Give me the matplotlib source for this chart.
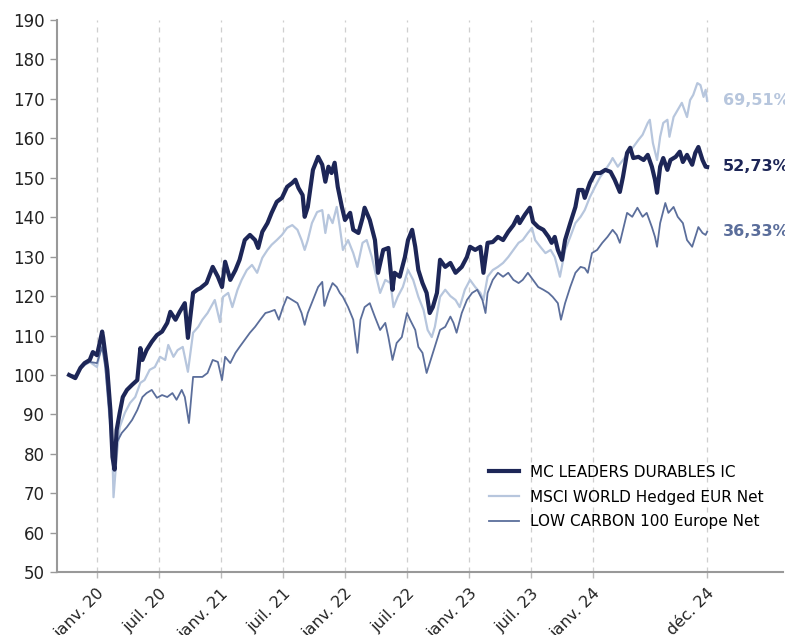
import numpy as np
import matplotlib
matplotlib.use("Agg")
import matplotlib.pyplot as plt

# months since janv. 20 / index value (base 100)
mc_m = [-2.7,-2.1,-1.6,-1.2,-0.7,-0.4,0.0,0.5,0.6,1.0,
        1.3,1.5,1.7,1.9,2.2,2.5,2.9,3.4,3.9,4.2,
        4.4,4.8,5.3,5.8,6.3,6.8,7.1,7.6,8.0,8.5,
        8.8,9.3,9.7,10.0,10.6,11.2,11.7,12.1,12.4,12.9,
        13.4,13.8,14.3,14.8,15.3,15.6,16.0,16.5,16.9,17.4,
        17.9,18.4,18.9,19.2,19.5,19.9,20.1,20.4,20.9,21.4,
        21.8,22.1,22.4,22.7,23.0,23.3,23.7,24.0,24.5,24.8,
        25.3,25.7,25.9,26.4,26.9,27.2,27.7,28.2,28.6,28.8,
        29.3,29.8,30.1,30.5,30.8,31.1,31.5,31.9,32.2,32.5,
        32.9,33.2,33.7,34.2,34.7,35.3,35.8,36.1,36.6,37.1,
        37.4,37.8,38.3,38.8,39.3,39.8,40.3,40.7,40.9,41.4,
        41.9,42.2,42.7,43.2,43.7,44.0,44.3,44.6,45.0,45.3,
        45.8,46.3,46.6,47.0,47.2,47.7,48.2,48.7,49.2,49.7,
        50.1,50.6,50.9,51.3,51.6,51.9,52.4,52.9,53.3,53.7,
        54.0,54.2,54.5,54.8,55.2,55.5,56.0,56.4,56.7,57.1,
        57.6,57.9,58.2,58.6,58.9,59.05]
mc_v = [100.0,99.2,101.8,103.0,103.8,105.8,105.0,111.0,109.4,101.3,
        91.0,79.2,76.0,86.0,90.4,94.4,96.2,97.5,98.7,106.8,
        103.8,106.3,108.4,110.1,111.0,113.2,116.0,114.0,116.0,118.2,
        109.4,120.8,121.6,122.0,123.3,127.4,124.9,122.3,128.7,124.1,
        126.6,129.2,134.2,135.5,134.2,132.2,136.3,138.5,141.1,143.9,
        144.9,147.7,148.7,149.5,147.4,145.6,140.1,142.6,152.0,155.3,
        153.3,149.0,152.8,151.2,153.8,147.7,142.6,139.3,141.1,136.8,
        136.0,139.8,142.4,139.3,134.2,125.9,131.7,132.2,121.6,125.9,
        124.9,129.9,134.2,136.8,132.5,126.6,123.3,120.8,115.7,117.2,
        120.8,129.2,127.4,128.4,125.9,127.4,129.9,132.5,131.7,132.5,
        125.9,133.5,133.7,135.0,134.2,136.3,138.0,140.1,138.5,140.6,
        142.4,138.8,137.5,136.8,135.0,133.5,135.0,131.7,129.2,134.2,
        138.5,142.6,146.9,146.9,144.9,148.7,151.2,151.2,152.0,151.5,
        149.5,146.4,150.2,156.3,157.6,155.0,155.3,154.5,155.8,152.8,
        149.5,146.2,152.8,155.0,152.0,154.5,155.3,156.6,154.0,155.8,
        153.3,156.3,157.8,154.5,152.8,152.73]

msci_m = [-2.7,-2.1,-1.6,-1.2,-0.7,0.0,0.5,0.8,1.1,1.5,
          1.6,1.9,2.2,2.7,3.2,3.7,4.2,4.6,5.1,5.6,
          6.1,6.6,6.9,7.4,7.8,8.3,8.8,9.3,9.8,10.2,
          10.7,11.4,11.9,12.2,12.7,13.1,13.6,14.0,14.5,15.0,
          15.5,16.0,16.5,16.9,17.4,17.9,18.4,18.9,19.4,19.8,
          20.1,20.4,20.8,21.3,21.8,22.1,22.4,22.8,23.2,23.5,
          23.8,24.3,24.8,25.2,25.7,26.1,26.6,27.1,27.4,27.9,
          28.4,28.7,29.1,29.6,30.1,30.6,31.1,31.6,32.0,32.4,
          32.7,33.2,33.7,34.2,34.7,35.1,35.6,36.1,36.6,37.1,
          37.4,37.8,38.3,38.8,39.3,39.8,40.3,40.8,41.2,41.7,
          42.1,42.4,42.9,43.4,43.9,44.3,44.8,45.3,45.8,46.3,
          46.8,47.2,47.7,48.2,48.7,49.2,49.7,49.9,50.4,50.9,
          51.4,51.9,52.4,52.8,53.0,53.3,53.5,53.8,54.2,54.5,
          54.8,55.2,55.4,55.8,56.2,56.6,57.1,57.4,57.7,58.1,
          58.4,58.7,58.9,59.05]
msci_v = [100.0,99.6,101.5,102.5,103.3,102.0,108.4,103.0,92.9,79.2,
          69.0,79.2,86.8,90.4,92.9,94.4,98.0,98.7,101.3,102.0,
          104.6,103.8,107.6,104.6,106.3,107.1,100.8,110.7,112.2,114.0,
          115.7,119.0,113.4,119.8,120.8,117.2,121.6,124.1,126.6,127.9,
          125.9,129.7,131.7,133.0,134.2,135.5,137.3,138.0,136.8,134.2,
          131.7,134.2,138.5,141.3,141.8,136.0,140.6,138.5,142.6,137.5,
          131.7,134.2,130.9,127.4,133.5,134.2,129.9,124.1,120.8,124.1,
          123.3,117.2,119.8,122.3,126.6,124.1,119.8,116.5,111.4,109.6,
          112.2,119.8,121.6,120.0,119.0,117.2,121.6,124.1,122.3,120.8,
          119.0,124.9,126.6,127.4,128.4,129.9,131.7,133.5,134.2,136.0,
          137.3,134.2,132.5,130.9,131.7,129.9,124.9,131.7,135.0,138.5,
          140.1,141.8,145.1,147.7,150.2,152.0,154.0,155.0,152.8,154.5,
          156.3,157.8,159.6,160.9,162.1,163.9,164.7,158.8,154.5,160.4,
          163.9,164.7,160.4,165.4,167.2,169.0,165.4,169.7,171.0,174.0,
          173.5,170.5,172.3,169.51]

lc_m = [-2.7,-2.1,-1.6,-1.2,-0.7,0.0,0.5,0.8,1.1,1.5,
        1.6,1.9,2.4,2.9,3.4,3.9,4.4,4.8,5.3,5.8,
        6.3,6.8,7.3,7.7,8.2,8.5,8.9,9.3,9.8,10.2,
        10.7,11.2,11.7,12.1,12.4,12.9,13.4,13.8,14.3,14.8,
        15.3,15.8,16.3,16.7,17.2,17.6,18.0,18.4,18.9,19.4,
        19.8,20.1,20.4,20.9,21.4,21.8,22.0,22.4,22.8,23.2,
        23.5,23.8,24.3,24.8,25.2,25.5,25.9,26.4,26.9,27.4,
        27.9,28.2,28.6,29.0,29.5,30.0,30.3,30.8,31.1,31.5,
        31.9,32.2,32.7,33.2,33.7,34.2,34.5,34.8,35.3,35.8,
        36.3,36.8,37.3,37.6,37.8,38.3,38.8,39.3,39.8,40.3,
        40.8,41.2,41.7,42.2,42.7,43.2,43.7,44.1,44.6,44.9,
        45.3,45.8,46.3,46.8,47.2,47.5,47.9,48.4,48.9,49.4,
        49.9,50.3,50.6,50.9,51.3,51.8,52.3,52.8,53.2,53.7,
        54.0,54.2,54.5,55.0,55.3,55.8,56.2,56.7,57.1,57.6,
        57.9,58.2,58.6,58.9,59.05]
lc_v = [100.0,99.8,101.6,102.6,103.3,103.0,107.1,102.0,92.9,81.7,
        76.0,82.8,85.3,86.8,88.6,91.1,94.4,95.4,96.2,94.2,
        94.9,94.4,95.4,93.7,96.2,94.4,87.8,99.5,99.5,99.5,
        100.5,103.8,103.3,98.7,104.6,103.0,105.6,107.1,108.9,110.7,
        112.2,114.0,115.7,116.0,116.5,114.0,117.2,119.8,119.0,118.2,
        115.7,112.7,115.7,119.0,122.3,123.6,117.5,120.8,123.3,122.3,
        120.8,119.8,117.2,114.0,105.6,114.0,117.2,118.2,114.7,111.4,
        113.2,109.6,103.8,108.1,109.6,115.7,114.0,111.4,107.1,105.6,
        100.5,103.0,107.1,111.4,112.2,114.8,113.2,110.7,115.7,119.0,
        120.8,121.6,119.0,115.7,120.8,124.1,125.9,124.9,125.9,124.1,
        123.3,124.1,125.9,124.1,122.3,121.6,120.8,119.8,118.2,114.0,
        118.2,122.3,125.9,127.4,127.1,125.9,130.9,131.7,133.5,135.0,
        136.8,135.5,133.5,136.8,141.1,140.1,142.4,140.1,141.1,137.5,
        135.0,132.5,138.5,143.6,141.1,142.6,140.1,138.5,134.2,132.5,
        135.0,137.5,136.0,135.5,136.33]

tick_pos = [0, 6, 12, 18, 24, 30, 36, 42, 48, 59]
tick_lbl = ["janv. 20", "juil. 20", "janv. 21", "juil. 21", "janv. 22",
            "juil. 22", "janv. 23", "juil. 23", "janv. 24", "déc. 24"]
end_lbl = ["52,73%", "69,51%", "36,33%"]

c_mc = "#1d2657"
c_msci = "#b7c6dd"
c_lc = "#5b6e9b"

fig = plt.figure(figsize=(7.85, 6.35), dpi=100)
ax = fig.add_axes([0.0726, 0.099, 0.925, 0.8695])

ax.plot(msci_m, msci_v, color=c_msci, lw=1.6, zorder=2, label="MSCI WORLD Hedged EUR Net")
ax.plot(lc_m, lc_v, color=c_lc, lw=1.3, zorder=3, label="LOW CARBON 100 Europe Net")
ax.plot(mc_m, mc_v, color=c_mc, lw=3.0, zorder=4, label="MC LEADERS DURABLES IC")

ax.set_xlim(-3.87, 66.4)
ax.set_ylim(50, 190)
ax.set_yticks(np.arange(50, 191, 10))
ax.set_xticks(tick_pos)
ax.set_xticklabels(tick_lbl, rotation=45, ha="right", rotation_mode="anchor")
ax.tick_params(axis="y", labelsize=12, length=5, width=1, color="#999999", labelcolor="#222222", pad=4)
ax.tick_params(axis="x", labelsize=11.5, length=4, width=1, color="#bbbbbb", labelcolor="#222222", pad=6)

for s in ["top", "right"]:
    ax.spines[s].set_visible(False)
for s in ["left", "bottom"]:
    ax.spines[s].set_color("#999999")
    ax.spines[s].set_linewidth(1.5)

ax.xaxis.grid(True, linestyle=(0, (4, 4)), color="#cfcfcf", lw=0.9)
ax.set_axisbelow(True)

# end labels
ends = [(mc_v[-1], c_mc), (msci_v[-1], c_msci), (lc_v[-1], c_lc)]
for (v, c), t in zip(ends, end_lbl):
    ax.text(60.6, v, t, color=c, fontsize=11.5, fontweight="bold", va="center", ha="left",
            clip_on=False)

h, l = ax.get_legend_handles_labels()
order = [2, 0, 1]
ax.legend([h[i] for i in order], [l[i] for i in order], loc="upper left",
          bbox_to_anchor=(0.605, 0.29), bbox_transform=fig.transFigure,
          frameon=False, fontsize=11, handlelength=2.0, labelspacing=0.65,
          handletextpad=0.7)

fig.savefig("out.png", dpi=100)
